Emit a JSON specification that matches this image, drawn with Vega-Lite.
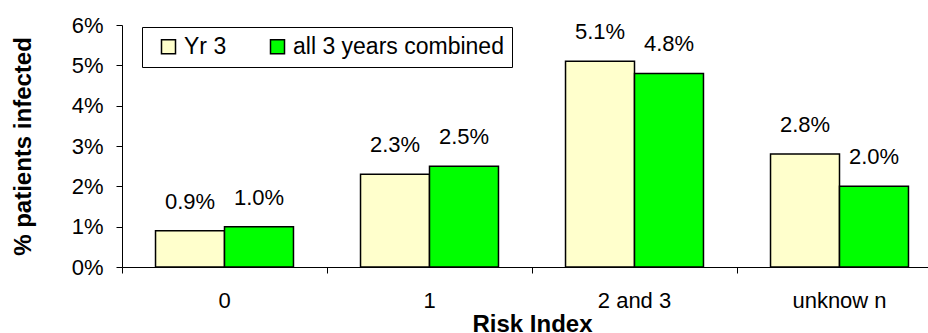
{
  "$schema": "https://vega.github.io/schema/vega-lite/v6.json",
  "width": 806,
  "height": 242,
  "autosize": {"type": "none"},
  "padding": {"left": 122, "top": 25, "right": 0, "bottom": 66},
  "background": "white",
  "config": {
    "font": "Liberation Sans",
    "view": {"stroke": null},
    "axis": {"grid": false, "domainColor": "black", "tickColor": "black", "labelColor": "black", "titleColor": "black", "tickSize": 6, "labelFontSize": 22, "labelFont": "Liberation Sans", "titleFont": "Liberation Sans", "titleFontSize": 24, "titleFontWeight": "bold", "domainWidth": 1, "tickWidth": 1}
  },
  "data": {
    "values": [
      {"risk": "0", "series": "Yr 3", "value": 0.009},
      {"risk": "0", "series": "all 3 years combined", "value": 0.010},
      {"risk": "1", "series": "Yr 3", "value": 0.023},
      {"risk": "1", "series": "all 3 years combined", "value": 0.025},
      {"risk": "2 and 3", "series": "Yr 3", "value": 0.051},
      {"risk": "2 and 3", "series": "all 3 years combined", "value": 0.048},
      {"risk": "unknow n", "series": "Yr 3", "value": 0.028},
      {"risk": "unknow n", "series": "all 3 years combined", "value": 0.020}
    ]
  },
  "encoding": {
    "x": {
      "field": "risk", "type": "nominal", "sort": ["0", "1", "2 and 3", "unknow n"],
      "scale": {"range": [0, 820], "paddingInner": 0, "paddingOuter": 0},
      "axis": {"title": "Risk Index", "labelAngle": 0, "bandPosition": 0, "labelPadding": 17, "titlePadding": 1}
    },
    "xOffset": {
      "field": "series", "type": "nominal", "sort": ["Yr 3", "all 3 years combined"],
      "scale": {"paddingInner": 0, "paddingOuter": 0.486}
    },
    "y": {
      "field": "value", "type": "quantitative",
      "scale": {"domain": [0, 0.06], "nice": false},
      "axis": {"title": "% patients infected", "format": ".0%", "values": [0, 0.01, 0.02, 0.03, 0.04, 0.05, 0.06], "labelPadding": 13, "titlePadding": 36}
    }
  },
  "layer": [
    {
      "mark": {"type": "bar", "stroke": "black", "strokeWidth": 1.5},
      "encoding": {
        "color": {
          "field": "series", "type": "nominal",
          "scale": {"domain": ["Yr 3", "all 3 years combined"], "range": ["#FFFFCC", "#00FF00"]},
          "legend": {"orient": "none", "legendX": 20, "legendY": 2, "direction": "horizontal", "title": null, "strokeColor": "black", "fillColor": "white", "padding": 8, "labelFontSize": 23, "labelColor": "black", "labelFont": "Liberation Sans", "labelLimit": 400, "symbolType": "square", "symbolSize": 196, "symbolStrokeColor": "black", "symbolStrokeWidth": 1.5, "labelOffset": 4, "columnPadding": 32, "symbolOffset": 7}
        }
      }
    },
    {
      "mark": {"type": "text", "dy": -22, "baseline": "alphabetic", "fontSize": 22, "color": "black", "font": "Liberation Sans"},
      "encoding": {"text": {"field": "value", "format": ".1%"}}
    }
  ]
}
